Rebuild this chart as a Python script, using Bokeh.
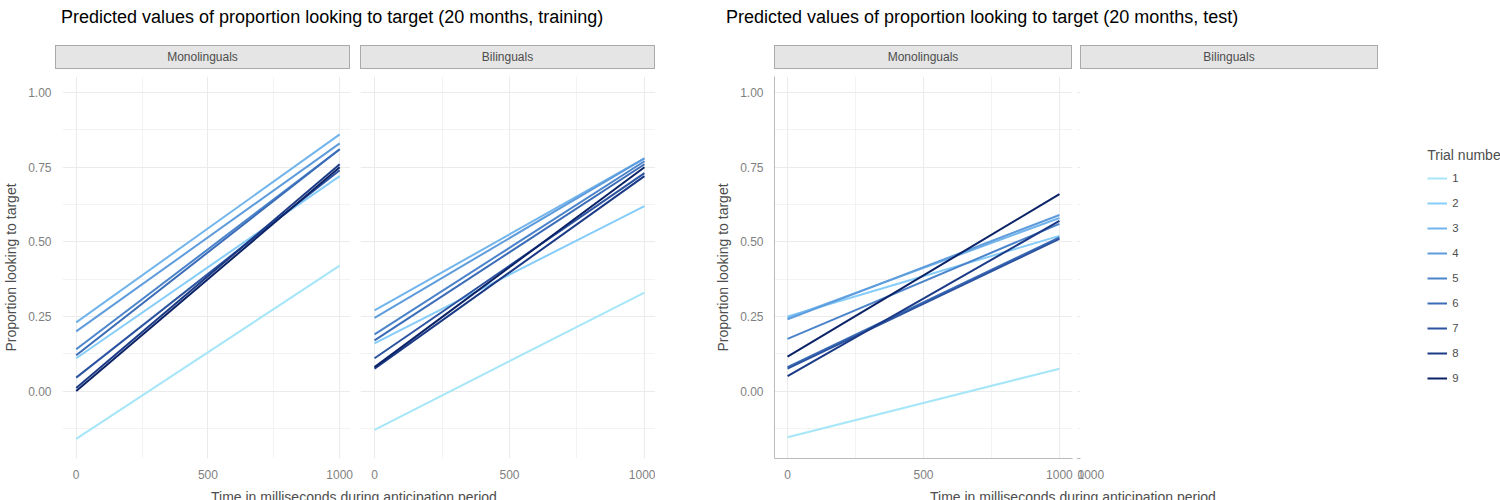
from bokeh.plotting import figure
from bokeh.layouts import row, column
from bokeh.models import Div, Range1d, FixedTicker, Legend, LegendItem, CustomJSTickFormatter
from bokeh.embed import file_html
from bokeh.resources import INLINE

## ----- DATA ----- ##
TRIALS = ["1", "2", "3", "4", "5", "6", "7", "8", "9"]
TIME = [0, 1000]

train_mono_start = [-0.16, 0.11, 0.23, 0.20, 0.14, 0.12, 0.045, 0.01, 0.00]
train_mono_end   = [0.42, 0.72, 0.86, 0.83, 0.81, 0.81, 0.74, 0.76, 0.75]
train_bili_start = [-0.13, 0.16, 0.27, 0.245, 0.19, 0.17, 0.11, 0.075, 0.08]
train_bili_end   = [0.33, 0.62, 0.78, 0.78, 0.77, 0.76, 0.73, 0.72, 0.75]
test_mono_start  = [-0.155, 0.25, 0.245, 0.24, 0.175, 0.08, 0.075, 0.05, 0.115]
test_mono_end    = [0.075, 0.52, 0.58, 0.59, 0.56, 0.515, 0.51, 0.57, 0.66]
test_bili_start  = [-0.045, 0.35, 0.34, 0.32, 0.235, 0.10, 0.09, 0.13, 0.13]
test_bili_end    = [0.205, 0.66, 0.70, 0.71, 0.69, 0.66, 0.67, 0.73, 0.82]

COLOURS = ["#a6e6f8", "#86cdf9", "#72b4ec", "#5f9cdc", "#4b84cb",
           "#3b6cb7", "#2b53a0", "#1b3a86", "#0b2266"]

FONT = "Liberation Sans"
GREY_TXT = "#7f7f7f"


def facet(strip, starts, ends, xr, frame_w, bl, br, yaxis, legend=False, axis_line=None):
    p = figure(width=bl + frame_w + br, height=408, x_range=Range1d(*xr),
               y_range=Range1d(-0.226, 1.054),
               output_backend="svg", toolbar_location=None,
               min_border_left=bl, min_border_right=br, min_border_top=2, min_border_bottom=24)
    p.outline_line_color = None
    items = []
    for i, tr in enumerate(TRIALS):
        r = p.line(TIME, [starts[i], ends[i]], line_color=COLOURS[i], line_width=2)
        items.append(LegendItem(label=tr, renderers=[r]))
    p.xaxis.ticker = FixedTicker(ticks=[0, 500, 1000], minor_ticks=[250, 750])
    p.yaxis.ticker = FixedTicker(ticks=[0, 0.25, 0.5, 0.75, 1.0],
                                 minor_ticks=[-0.125, 0.125, 0.375, 0.625, 0.875])
    p.yaxis.formatter = CustomJSTickFormatter(code="return tick.toFixed(2)")
    for g in (p.xgrid, p.ygrid):
        g.grid_line_color = "#ebebeb"
        g.minor_grid_line_color = "#ebebeb"
        g.minor_grid_line_width = 0.6
    for ax in (p.xaxis, p.yaxis):
        ax.major_tick_line_color = None
        ax.minor_tick_line_color = None
        ax.axis_line_color = axis_line
        ax.major_label_text_color = GREY_TXT
        ax.major_label_text_font = FONT
        ax.major_label_text_font_size = "9pt"
        ax.axis_label_text_font = FONT
        ax.axis_label_text_font_style = "normal"
        ax.axis_label_text_color = "#4d4d4d"
        ax.axis_label_text_font_size = "10.5pt"
        ax.axis_label_standoff = 6
    if yaxis:
        p.yaxis.axis_label = "Proportion looking to target"
    else:
        p.yaxis.visible = False
    if legend:
        lg = Legend(items=items, title="Trial number", border_line_color=None,
                    label_text_font=FONT, label_text_font_size="8.5pt", label_text_color="#4d4d4d",
                    title_text_font=FONT, title_text_font_size="10.5pt", title_text_color="#4d4d4d",
                    title_text_font_style="normal", glyph_width=20, label_height=14,
                    spacing=5, margin=0, padding=0, location=(12, 70))
        p.add_layout(lg, "right")
    strip_div = Div(text=strip, width=frame_w, height=24,
                    styles={"margin-left": f"{bl}px", "background": "#e5e5e5",
                            "border": "1px solid #aaaaaa", "box-sizing": "border-box",
                            "text-align": "center", "font-family": FONT, "font-size": "9pt",
                            "color": "#4d4d4d", "line-height": "22px"})
    return column(strip_div, p, spacing=0)


f1 = facet("Monolinguals", train_mono_start, train_mono_end, (-52, 1041), 295, 55, 5, True)
f2 = facet("Bilinguals", train_bili_start, train_bili_end, (-52, 1041), 295, 5, 0, False)
f3 = facet("Monolinguals", test_mono_start, test_mono_end, (-48, 1048), 298, 109, 4, True, axis_line="#bbbbbb")
f4 = facet("Bilinguals", test_bili_start, test_bili_end, (-48, 1048), 298, 3, 112, False, True, axis_line="#bbbbbb")

left = column(Div(text="Predicted values of proportion looking to target (20 months, training)",
                  width=655, height=30,
                  styles={"font-family": FONT, "font-size": "13.5pt", "padding-left": "56px"}),
              row(f1, f2),
              Div(text="Time in milliseconds during anticipation period", width=655, height=20,
                  styles={"font-family": FONT, "font-size": "10.5pt", "color": "#4d4d4d",
                          "padding-left": "206px"}))
right = column(Div(text="Predicted values of proportion looking to target (20 months, test)",
                   width=827, height=30,
                   styles={"font-family": FONT, "font-size": "13.5pt", "padding-left": "56px"}),
               row(f3, f4),
               Div(text="Time in milliseconds during anticipation period", width=827, height=20,
                   styles={"font-family": FONT, "font-size": "10.5pt", "color": "#4d4d4d",
                           "padding-left": "260px"}))
p = row(left, right)

open("out.html", "w").write(file_html(p, INLINE))
